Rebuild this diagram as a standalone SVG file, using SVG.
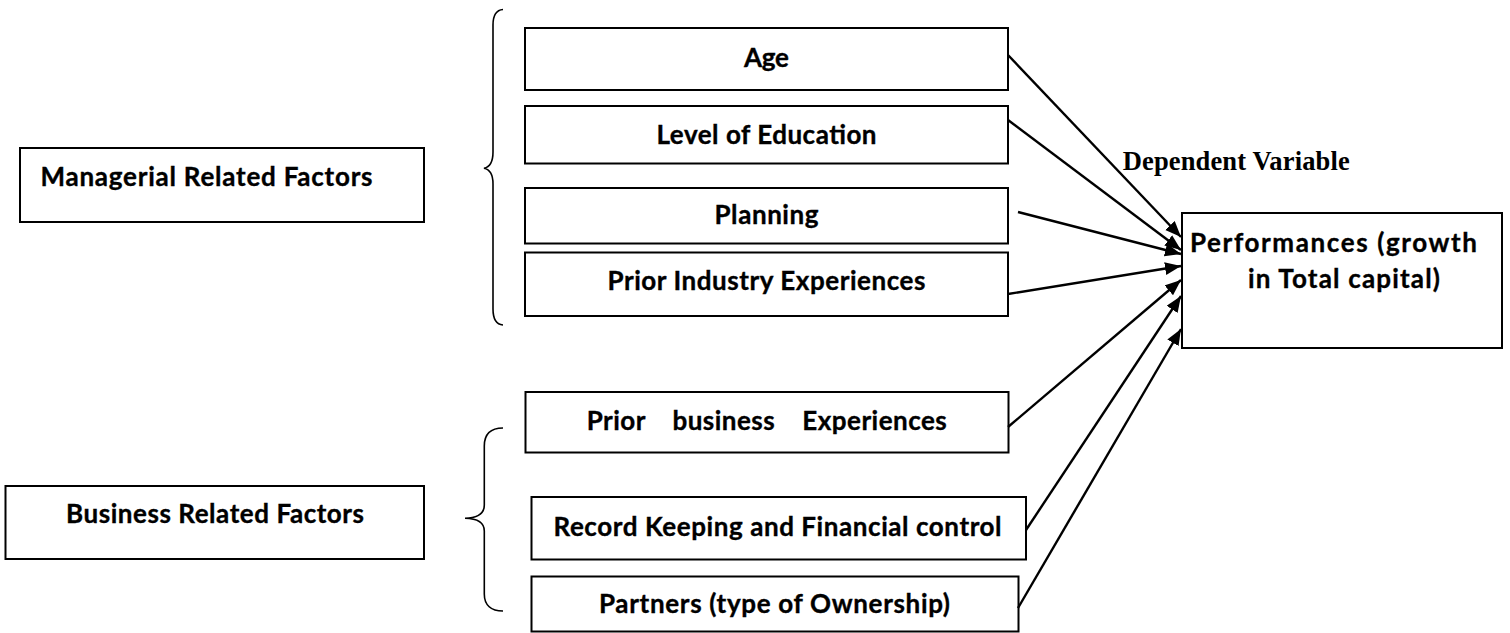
<svg xmlns="http://www.w3.org/2000/svg" width="1510" height="633" viewBox="0 0 1510 633">
  <style>
    .box { fill: #ffffff; stroke: #000000; stroke-width: 2; }
    .lbl { font-family: Lato, "Noto Sans", "Liberation Sans", sans-serif; font-weight: bold; font-size: 26px; fill: #000000; stroke: #000000; stroke-width: 0.35; }
    .mid { text-anchor: middle; }
    .serif { font-family: "Liberation Serif", "DejaVu Serif", serif; font-weight: bold; font-size: 26.5px; fill: #000000; }
    .brace { fill: none; stroke: #000000; stroke-width: 1.6; }
    .link { fill: none; stroke: #000000; stroke-width: 2.4; }
  </style>
  <defs>
    <marker id="arrow" markerUnits="userSpaceOnUse" markerWidth="18" markerHeight="14" refX="16" refY="6.5" orient="auto">
      <path d="M0,0 L16,6.5 L0,13 z" fill="#000000"/>
    </marker>
  </defs>
  <rect width="1510" height="633" fill="#ffffff"/>

  <!-- group headings -->
  <g id="managerial">
    <rect class="box" x="20" y="148" width="404" height="74"/>
    <text class="lbl" x="40.5" y="186" textLength="332">Managerial Related Factors</text>
  </g>
  <g id="business">
    <rect class="box" x="5.5" y="486" width="418.5" height="73"/>
    <text class="lbl mid" x="215" y="523" textLength="298">Business Related Factors</text>
  </g>

  <!-- braces -->
  <path id="brace-managerial" class="brace" d="M503,9.5 C496,10 493,15 493,25 L493,152 C493,162 490,167 484,168.3 C490,169.5 493,174 493,184 L493,309 C493,319 496,324.5 503,325"/>
  <path id="brace-business" class="brace" d="M503,428 C491,428 484.3,434 484.3,446 L484.3,505 C484.3,513 478,518 465,518.3 C478,518.6 484.3,523 484.3,531 L484.3,594 C484.3,605 491,611 503,611"/>

  <!-- managerial factors -->
  <g id="age">
    <rect class="box" x="525" y="28" width="483" height="62"/>
    <text class="lbl mid" x="766.5" y="66.5" textLength="45">Age</text>
  </g>
  <g id="education">
    <rect class="box" x="525" y="106" width="483" height="57.5"/>
    <text class="lbl mid" x="766.5" y="143.5" textLength="220">Level of Education</text>
  </g>
  <g id="planning">
    <rect class="box" x="525" y="188" width="483" height="55.5"/>
    <text class="lbl mid" x="766.5" y="224" textLength="104">Planning</text>
  </g>
  <g id="industry">
    <rect class="box" x="525" y="252.5" width="483" height="63.5"/>
    <text class="lbl mid" x="766.5" y="290" textLength="318">Prior Industry Experiences</text>
  </g>

  <!-- business factors -->
  <g id="prior-business">
    <rect class="box" x="525.5" y="392" width="483" height="60.5"/>
    <text class="lbl mid" x="766.7" y="430" textLength="360" xml:space="preserve">Prior    business    Experiences</text>
  </g>
  <g id="record-keeping">
    <rect class="box" x="531.5" y="497" width="494.5" height="62.5"/>
    <text class="lbl mid" x="777.5" y="536" textLength="448">Record Keeping and Financial control</text>
  </g>
  <g id="partners">
    <rect class="box" x="531.5" y="576.5" width="487" height="55"/>
    <text class="lbl mid" x="774.5" y="613.3" textLength="351">Partners (type of Ownership)</text>
  </g>

  <!-- outcome -->
  <g id="performance">
    <rect class="box" x="1182" y="213" width="320" height="135"/>
    <text class="lbl" x="1190" y="251.7" textLength="287">Performances (growth</text>
    <text class="lbl" x="1248" y="288" textLength="192">in Total capital)</text>
  </g>
  <g id="dependent-label">
    <text class="serif" x="1122.7" y="170" textLength="227">Dependent Variable</text>
  </g>

  <!-- connectors -->
  <g id="connectors">
    <line class="link" x1="1008" y1="55" x2="1181" y2="237" marker-end="url(#arrow)"/>
    <line class="link" x1="1008" y1="120" x2="1181" y2="250" marker-end="url(#arrow)"/>
    <line class="link" x1="1018" y1="212" x2="1181" y2="254" marker-end="url(#arrow)"/>
    <line class="link" x1="1008" y1="294" x2="1181" y2="266" marker-end="url(#arrow)"/>
    <line class="link" x1="1008" y1="427" x2="1181" y2="280" marker-end="url(#arrow)"/>
    <line class="link" x1="1026" y1="530" x2="1181" y2="296" marker-end="url(#arrow)"/>
    <line class="link" x1="1018" y1="608" x2="1181" y2="329" marker-end="url(#arrow)"/>
  </g>
</svg>
